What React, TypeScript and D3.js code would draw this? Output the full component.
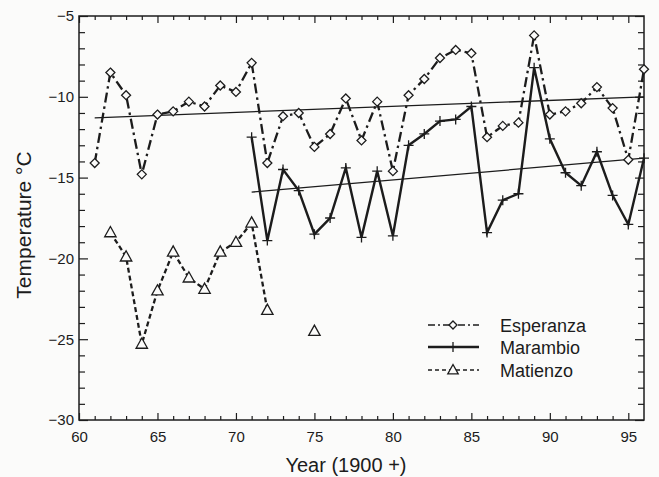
import React, { useEffect, useRef } from "react";
import * as d3 from "d3";

// Esperanza (dash-dot, diamonds)
const espYears = [61, 62, 63, 64, 65, 66, 67, 68, 69, 70, 71, 72, 73, 74, 75, 76, 77, 78, 79, 80, 81, 82, 83, 84, 85, 86, 87, 88, 89, 90, 91, 92, 93, 94, 95, 96];
const espTemps = [-14.1, -8.5, -9.9, -14.8, -11.1, -10.9, -10.3, -10.6, -9.3, -9.7, -7.9, -14.1, -11.2, -11.0, -13.1, -12.3, -10.1, -12.7, -10.3, -14.6, -9.9, -8.9, -7.6, -7.1, -7.3, -12.5, -11.8, -11.6, -6.2, -11.1, -10.9, -10.4, -9.4, -10.7, -13.9, -8.3];

// Marambio (solid, crosses)
const marYears = [71, 72, 73, 74, 75, 76, 77, 78, 79, 80, 81, 82, 83, 84, 85, 86, 87, 88, 89, 90, 91, 92, 93, 94, 95, 96];
const marTemps = [-12.5, -18.9, -14.5, -15.8, -18.5, -17.5, -14.4, -18.7, -14.6, -18.6, -13.0, -12.3, -11.5, -11.4, -10.6, -18.4, -16.4, -16.0, -8.2, -12.6, -14.7, -15.5, -13.4, -16.1, -17.9, -13.8];

// Matienzo (dashed, triangles) - gap in 73/74
const matYears = [62, 63, 64, 65, 66, 67, 68, 69, 70, 71, 72, 73, 74, 75];
const matTemps = [-18.4, -19.9, -25.3, -22.0, -19.6, -21.2, -21.9, -19.6, -19.0, -17.8, -23.2, null, null, -24.5];

// trend lines, end points
const espTrend = [[61, -11.3], [96, -10.0]];
const marTrend = [[71, -15.9], [96, -13.8]];

const xMajor = [60, 65, 70, 75, 80, 85, 90, 95];
const yMajor = [-30, -25, -20, -15, -10, -5];

const legendNames = ["Esperanza", "Marambio", "Matienzo"];

const App = () => {
  const ref = useRef(null);
  const width = 659;
  const height = 477;
  const m = { left: 79, right: 15, top: 16, bottom: 57 };

  useEffect(() => {
    const svg = d3.select(ref.current);
    svg.selectAll("*").remove();
    const ink = "#1c1c1c";
    const font = "'Liberation Sans', Arial, sans-serif";

    const x = d3.scaleLinear().domain([60, 96]).range([m.left, width - m.right]);
    const y = d3.scaleLinear().domain([-30, -5]).range([height - m.bottom, m.top]);

    svg.append("rect").attr("width", width).attr("height", height).attr("fill", "#fbfbfa");

    const xMinor = d3.range(61, 96).filter((d) => d % 5 !== 0);
    const yMinor = d3.range(-29, -5).filter((d) => d % 5 !== 0);

    const axes = svg.append("g");

    const put = (axis, tx, ty) => {
      const g = axes.append("g").attr("transform", `translate(${tx},${ty})`).call(axis);
      g.attr("font-family", font).attr("font-size", 15);
      g.select(".domain").remove();
      g.selectAll("line").attr("stroke", ink).attr("stroke-width", 1.2);
      g.selectAll("text").attr("fill", ink);
      return g;
    };

    const bottom = height - m.bottom;
    const right = width - m.right;

    put(d3.axisBottom(x).tickValues(xMajor).tickSize(-7).tickPadding(11).tickFormat(d3.format("d")), 0, bottom);
    put(d3.axisBottom(x).tickValues(xMinor).tickSize(-4).tickFormat(() => ""), 0, bottom);
    put(d3.axisTop(x).tickValues(xMajor).tickSize(-7).tickFormat(() => ""), 0, m.top);
    put(d3.axisTop(x).tickValues(xMinor).tickSize(-4).tickFormat(() => ""), 0, m.top);
    put(d3.axisLeft(y).tickValues(yMajor).tickSize(-9).tickPadding(5).tickFormat(d3.format("d")), m.left, 0);
    put(d3.axisLeft(y).tickValues(yMinor).tickSize(-6).tickFormat(() => ""), m.left, 0);
    put(d3.axisRight(y).tickValues(yMajor).tickSize(-9).tickFormat(() => ""), right, 0);
    put(d3.axisRight(y).tickValues(yMinor).tickSize(-6).tickFormat(() => ""), right, 0);

    svg
      .append("rect")
      .attr("x", m.left)
      .attr("y", m.top)
      .attr("width", right - m.left)
      .attr("height", bottom - m.top)
      .attr("fill", "none")
      .attr("stroke", ink)
      .attr("stroke-width", 1.5);

    // axis titles
    svg
      .append("text")
      .attr("x", 346)
      .attr("y", 472)
      .attr("text-anchor", "middle")
      .style("font-family", font)
      .style("font-size", "20px")
      .attr("fill", ink)
      .text("Year (1900 +)");

    svg
      .append("text")
      .attr("transform", `translate(31,${(m.top + bottom) / 2 + 7}) rotate(-90)`)
      .attr("text-anchor", "middle")
      .style("font-family", font)
      .style("font-size", "21px")
      .attr("fill", ink)
      .text("Temperature °C");

    const line = d3
      .line()
      .defined((d) => d[1] != null)
      .x((d) => x(d[0]))
      .y((d) => y(d[1]));

    // trend lines
    [espTrend, marTrend].forEach((t) => {
      svg.append("path").attr("d", line(t)).attr("fill", "none").attr("stroke", ink).attr("stroke-width", 1.3);
    });

    const esp = espYears.map((d, i) => [d, espTemps[i]]);
    const mar = marYears.map((d, i) => [d, marTemps[i]]);
    const mat = matYears.map((d, i) => [d, matTemps[i]]);

    const espDash = "10,4,2.5,4";
    const matDash = "5,3";

    svg.append("path").attr("d", line(esp)).attr("fill", "none").attr("stroke", ink).attr("stroke-width", 2.3).attr("stroke-dasharray", espDash);
    svg.append("path").attr("d", line(mar)).attr("fill", "none").attr("stroke", ink).attr("stroke-width", 2.4).attr("stroke-linejoin", "miter");
    svg.append("path").attr("d", line(mat)).attr("fill", "none").attr("stroke", ink).attr("stroke-width", 2.3).attr("stroke-dasharray", matDash);

    const diamond = (g, cx, cy, r) =>
      g.append("path")
        .attr("d", `M${cx},${cy - r}L${cx + r},${cy}L${cx},${cy + r}L${cx - r},${cy}Z`)
        .attr("fill", "#fbfbfa").attr("stroke", ink).attr("stroke-width", 1.3);
    const cross = (g, cx, cy, r) =>
      g.append("path")
        .attr("d", `M${cx - r},${cy}H${cx + r}M${cx},${cy - r}V${cy + r}`)
        .attr("fill", "none").attr("stroke", ink).attr("stroke-width", 1.3);
    const tri = (g, cx, cy, r) =>
      g.append("path")
        .attr("d", `M${cx},${cy - r}L${cx + r * 0.95},${cy + r * 0.7}L${cx - r * 0.95},${cy + r * 0.7}Z`)
        .attr("fill", "#fbfbfa").attr("stroke", ink).attr("stroke-width", 1.3);

    const marks = svg.append("g");
    esp.forEach((d) => diamond(marks, x(d[0]), y(d[1]), 4.5));
    mar.forEach((d) => cross(marks, x(d[0]), y(d[1]), 5));
    mat.filter((d) => d[1] != null).forEach((d) => tri(marks, x(d[0]), y(d[1]), 6));

    // legend
    const lg = svg.append("g");
    const rowY = [325, 347, 370];
    const styles = [
      { dash: "7,3,2,3", w: 1.6, mark: diamond, r: 4 },
      { dash: null, w: 2.6, mark: cross, r: 5 },
      { dash: "4,3", w: 1.4, mark: tri, r: 5.5 },
    ];
    legendNames.forEach((name, i) => {
      const s = styles[i];
      const p = lg.append("line").attr("x1", 428).attr("x2", 479).attr("y1", rowY[i]).attr("y2", rowY[i]).attr("stroke", ink).attr("stroke-width", s.w);
      if (s.dash) p.attr("stroke-dasharray", s.dash);
      s.mark(lg, 453, rowY[i], s.r);
      lg.append("text")
        .attr("x", 500)
        .attr("y", rowY[i] + 6.5)
        .style("font-family", font)
        .style("font-size", "18px")
        .attr("fill", ink)
        .text(name);
    });
  }, []);

  return <svg ref={ref} width={width} height={height} style={{ position: "absolute", left: 0, top: 0 }}></svg>;
};

export default App;
